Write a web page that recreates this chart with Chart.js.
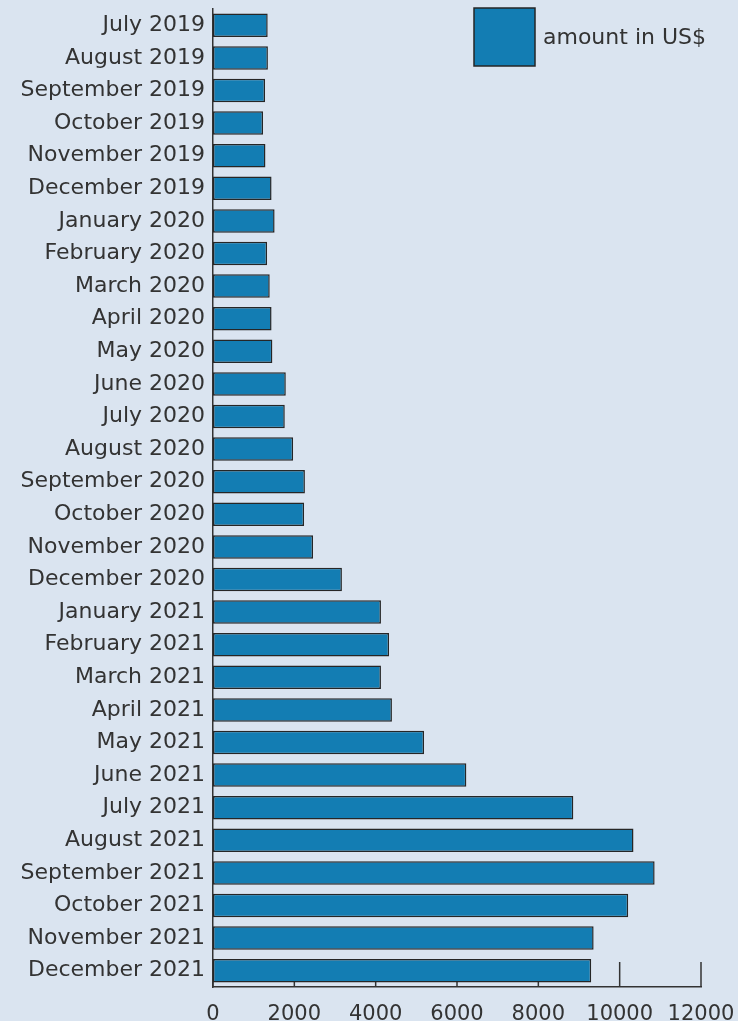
<!DOCTYPE html>
<html>
<head>
<meta charset="utf-8">
<script src="https://cdn.jsdelivr.net/npm/chart.js@4/dist/chart.umd.min.js"></script>
<style>
  html, body { margin: 0; padding: 0; background: #dae4f0; }
  #wrap { width: 738px; height: 1021px; }
</style>
</head>
<body>
<div id="wrap"><canvas id="chart" width="738" height="1021"></canvas></div>
<script>
// Months shown on the y axis
const months = [
  'July 2019', 'August 2019', 'September 2019', 'October 2019', 'November 2019', 'December 2019',
  'January 2020', 'February 2020', 'March 2020', 'April 2020', 'May 2020', 'June 2020',
  'July 2020', 'August 2020', 'September 2020', 'October 2020', 'November 2020', 'December 2020',
  'January 2021', 'February 2021', 'March 2021', 'April 2021', 'May 2021', 'June 2021',
  'July 2021', 'August 2021', 'September 2021', 'October 2021', 'November 2021', 'December 2021'
];

// Amount in US$ per month
const amounts = [
  1345, 1350, 1280, 1230, 1290, 1440,
  1515, 1330, 1395, 1440, 1460, 1790,
  1765, 1970, 2260, 2240, 2460, 3170,
  4130, 4330, 4130, 4400, 5190, 6230,
  8860, 10340, 10860, 10210, 9360, 9300
];

const xTicks = [0, 2000, 4000, 6000, 8000, 10000, 12000];

const textColor = '#333333';
const fontFamily = '"DejaVu Sans", sans-serif';

// Draws the x axis tick marks pointing up into the plot, under the bars
const innerTicks = {
  id: 'innerTicks',
  beforeDatasetsDraw(chart) {
    const ctx = chart.ctx;
    const x = chart.scales.x;
    const bottom = chart.chartArea.bottom;
    ctx.save();
    ctx.strokeStyle = '#333333';
    ctx.lineWidth = 1.5;
    xTicks.forEach(v => {
      const px = x.getPixelForValue(v);
      ctx.beginPath();
      ctx.moveTo(px, bottom);
      ctx.lineTo(px, bottom - 25);
      ctx.stroke();
    });
    ctx.restore();
  }
};

// Legend box in the top right corner, over the plot
const boxLegend = {
  id: 'boxLegend',
  afterDatasetsDraw(chart) {
    const ctx = chart.ctx;
    const ds = chart.data.datasets[0];
    ctx.save();
    ctx.fillStyle = ds.backgroundColor;
    ctx.strokeStyle = ds.borderColor;
    ctx.lineWidth = 1.5;
    ctx.fillRect(474, 8, 61, 58);
    ctx.strokeRect(474, 8, 61, 58);
    ctx.fillStyle = textColor;
    ctx.font = '22px ' + fontFamily;
    ctx.textBaseline = 'middle';
    ctx.textAlign = 'left';
    ctx.fillText(ds.label, 543, 38);
    ctx.restore();
  }
};

new Chart(document.getElementById('chart').getContext('2d'), {
  type: 'bar',
  data: {
    labels: months,
    datasets: [{
      label: 'amount in US$',
      data: amounts,
      backgroundColor: '#137db3',
      borderColor: '#262626',
      borderWidth: 1.5,
      borderSkipped: false,
      barPercentage: 0.72,
      categoryPercentage: 1
    }]
  },
  options: {
    indexAxis: 'y',
    responsive: false,
    animation: false,
    layout: { padding: 0 },
    plugins: {
      legend: { display: false },
      tooltip: { enabled: false }
    },
    scales: {
      x: {
        min: 0,
        max: 12000,
        afterBuildTicks(scale) {
          scale.ticks = xTicks.map(v => ({ value: v }));
        },
        grid: { display: false, drawTicks: false },
        border: { display: true, color: '#333333', width: 1.5 },
        ticks: {
          color: textColor,
          font: { family: fontFamily, size: 21 },
          maxRotation: 0,
          padding: 15,
          callback: v => String(v)
        },
        afterFit(scale) {
          scale.height = 34;
          scale.paddingLeft = 0;
          scale.paddingRight = 37;
        }
      },
      y: {
        grid: { display: false, drawTicks: false },
        border: { display: true, color: '#333333', width: 1.5 },
        ticks: {
          color: textColor,
          font: { family: fontFamily, size: 22 },
          padding: 8,
          autoSkip: false
        },
        afterFit(scale) {
          scale.width = 213;
          scale.paddingTop = 9;
          scale.paddingBottom = 0;
        }
      }
    }
  },
  plugins: [innerTicks, boxLegend]
});
</script>
</body>
</html>
